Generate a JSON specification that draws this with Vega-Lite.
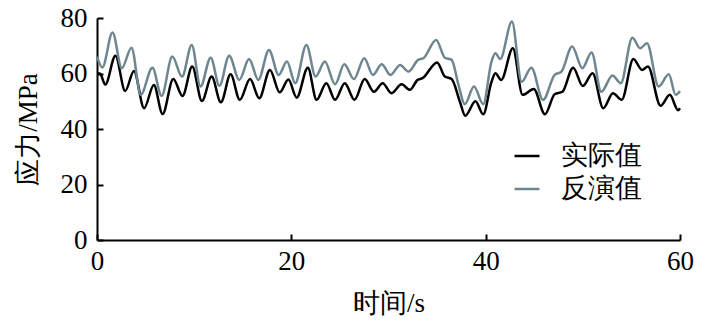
{
  "$schema": "https://vega.github.io/schema/vega-lite/v6.json",
  "width": 583,
  "height": 222,
  "autosize": "none",
  "padding": {"left": 97, "top": 18, "right": 29, "bottom": 91},
  "background": "white",
  "config": {
    "view": {"stroke": null},
    "font": "Liberation Serif",
    "axis": {
      "domainColor": "#000000",
      "domainWidth": 2,
      "tickColor": "#000000",
      "tickWidth": 2,
      "tickSize": -6,
      "grid": false,
      "labelFlush": false,
      "labelFont": "Liberation Serif",
      "labelFontSize": 27,
      "labelColor": "#000000",
      "titleFont": "Liberation Serif",
      "titleFontSize": 27,
      "titleFontWeight": "normal",
      "titleColor": "#000000"
    }
  },
  "data": {
    "values": [
      {"t": 0.0, "v": 60.0, "s": "实际值"},
      {"t": 0.3, "v": 60.0, "s": "实际值"},
      {"t": 0.85, "v": 56.0, "s": "实际值"},
      {"t": 1.9, "v": 66.4, "s": "实际值"},
      {"t": 2.9, "v": 53.7, "s": "实际值"},
      {"t": 3.8, "v": 60.9, "s": "实际值"},
      {"t": 4.85, "v": 47.5, "s": "实际值"},
      {"t": 5.85, "v": 55.9, "s": "实际值"},
      {"t": 6.75, "v": 45.4, "s": "实际值"},
      {"t": 7.85, "v": 58.0, "s": "实际值"},
      {"t": 8.8, "v": 51.9, "s": "实际值"},
      {"t": 9.8, "v": 62.5, "s": "实际值"},
      {"t": 10.8, "v": 50.1, "s": "实际值"},
      {"t": 11.8, "v": 58.9, "s": "实际值"},
      {"t": 12.75, "v": 49.6, "s": "实际值"},
      {"t": 13.75, "v": 59.7, "s": "实际值"},
      {"t": 14.7, "v": 50.5, "s": "实际值"},
      {"t": 15.75, "v": 58.0, "s": "实际值"},
      {"t": 16.7, "v": 51.1, "s": "实际值"},
      {"t": 17.8, "v": 61.3, "s": "实际值"},
      {"t": 18.8, "v": 53.2, "s": "实际值"},
      {"t": 19.7, "v": 57.8, "s": "实际值"},
      {"t": 20.55, "v": 51.3, "s": "实际值"},
      {"t": 21.7, "v": 62.1, "s": "实际值"},
      {"t": 22.6, "v": 50.5, "s": "实际值"},
      {"t": 23.6, "v": 56.5, "s": "实际值"},
      {"t": 24.5, "v": 50.5, "s": "实际值"},
      {"t": 25.5, "v": 56.5, "s": "实际值"},
      {"t": 26.5, "v": 50.5, "s": "实际值"},
      {"t": 27.55, "v": 58.0, "s": "实际值"},
      {"t": 28.5, "v": 53.4, "s": "实际值"},
      {"t": 29.4, "v": 56.5, "s": "实际值"},
      {"t": 30.3, "v": 52.9, "s": "实际值"},
      {"t": 31.35, "v": 56.1, "s": "实际值"},
      {"t": 32.2, "v": 54.1, "s": "实际值"},
      {"t": 33.0, "v": 57.7, "s": "实际值"},
      {"t": 33.5, "v": 58.3, "s": "实际值"},
      {"t": 35.0, "v": 64.0, "s": "实际值"},
      {"t": 35.8, "v": 58.9, "s": "实际值"},
      {"t": 36.5, "v": 58.0, "s": "实际值"},
      {"t": 37.35, "v": 49.8, "s": "实际值"},
      {"t": 37.9, "v": 44.8, "s": "实际值"},
      {"t": 38.95, "v": 50.0, "s": "实际值"},
      {"t": 39.75, "v": 45.3, "s": "实际值"},
      {"t": 40.6, "v": 57.0, "s": "实际值"},
      {"t": 41.0, "v": 60.1, "s": "实际值"},
      {"t": 41.6, "v": 57.7, "s": "实际值"},
      {"t": 42.8, "v": 69.1, "s": "实际值"},
      {"t": 43.8, "v": 52.3, "s": "实际值"},
      {"t": 44.95, "v": 54.4, "s": "实际值"},
      {"t": 46.1, "v": 45.3, "s": "实际值"},
      {"t": 47.1, "v": 52.5, "s": "实际值"},
      {"t": 47.9, "v": 53.4, "s": "实际值"},
      {"t": 49.0, "v": 62.1, "s": "实际值"},
      {"t": 50.0, "v": 55.5, "s": "实际值"},
      {"t": 51.0, "v": 60.1, "s": "实际值"},
      {"t": 52.1, "v": 47.5, "s": "实际值"},
      {"t": 53.1, "v": 52.9, "s": "实际值"},
      {"t": 54.0, "v": 50.5, "s": "实际值"},
      {"t": 55.2, "v": 65.2, "s": "实际值"},
      {"t": 56.1, "v": 61.3, "s": "实际值"},
      {"t": 56.7, "v": 62.5, "s": "实际值"},
      {"t": 58.0, "v": 48.4, "s": "实际值"},
      {"t": 58.95, "v": 52.3, "s": "实际值"},
      {"t": 59.8, "v": 46.8, "s": "实际值"},
      {"t": 60.0, "v": 47.5, "s": "实际值"},
      {"t": 0.0, "v": 66.1, "s": "反演值"},
      {"t": 0.55, "v": 62.2, "s": "反演值"},
      {"t": 1.6, "v": 74.8, "s": "反演值"},
      {"t": 2.55, "v": 61.9, "s": "反演值"},
      {"t": 3.55, "v": 69.3, "s": "反演值"},
      {"t": 4.5, "v": 52.3, "s": "反演值"},
      {"t": 5.7, "v": 62.1, "s": "反演值"},
      {"t": 6.65, "v": 52.0, "s": "反演值"},
      {"t": 7.75, "v": 66.1, "s": "反演值"},
      {"t": 8.75, "v": 58.9, "s": "反演值"},
      {"t": 9.75, "v": 70.3, "s": "反演值"},
      {"t": 10.65, "v": 55.3, "s": "反演值"},
      {"t": 11.7, "v": 65.7, "s": "反演值"},
      {"t": 12.6, "v": 55.6, "s": "反演值"},
      {"t": 13.6, "v": 66.4, "s": "反演值"},
      {"t": 14.65, "v": 57.7, "s": "反演值"},
      {"t": 15.65, "v": 65.2, "s": "反演值"},
      {"t": 16.6, "v": 57.7, "s": "反演值"},
      {"t": 17.7, "v": 68.5, "s": "反演值"},
      {"t": 18.7, "v": 59.5, "s": "反演值"},
      {"t": 19.55, "v": 64.3, "s": "反演值"},
      {"t": 20.4, "v": 56.5, "s": "反演值"},
      {"t": 21.55, "v": 70.3, "s": "反演值"},
      {"t": 22.5, "v": 58.9, "s": "反演值"},
      {"t": 23.45, "v": 64.3, "s": "反演值"},
      {"t": 24.5, "v": 56.1, "s": "反演值"},
      {"t": 25.45, "v": 63.3, "s": "反演值"},
      {"t": 26.45, "v": 58.0, "s": "反演值"},
      {"t": 27.5, "v": 65.5, "s": "反演值"},
      {"t": 28.4, "v": 59.5, "s": "反演值"},
      {"t": 29.3, "v": 63.3, "s": "反演值"},
      {"t": 30.2, "v": 59.5, "s": "反演值"},
      {"t": 31.2, "v": 63.1, "s": "反演值"},
      {"t": 32.05, "v": 60.7, "s": "反演值"},
      {"t": 33.05, "v": 64.9, "s": "反演值"},
      {"t": 33.6, "v": 65.5, "s": "反演值"},
      {"t": 34.9, "v": 72.1, "s": "反演值"},
      {"t": 35.8, "v": 65.7, "s": "反演值"},
      {"t": 36.5, "v": 64.9, "s": "反演值"},
      {"t": 37.2, "v": 55.9, "s": "反演值"},
      {"t": 37.85, "v": 48.9, "s": "反演值"},
      {"t": 38.8, "v": 55.3, "s": "反演值"},
      {"t": 39.75, "v": 48.9, "s": "反演值"},
      {"t": 40.6, "v": 64.3, "s": "反演值"},
      {"t": 41.0, "v": 67.3, "s": "反演值"},
      {"t": 41.5, "v": 65.2, "s": "反演值"},
      {"t": 42.7, "v": 78.7, "s": "反演值"},
      {"t": 43.7, "v": 57.0, "s": "反演值"},
      {"t": 44.7, "v": 62.1, "s": "反演值"},
      {"t": 45.9, "v": 50.5, "s": "反演值"},
      {"t": 47.1, "v": 59.5, "s": "反演值"},
      {"t": 47.8, "v": 60.7, "s": "反演值"},
      {"t": 48.9, "v": 69.7, "s": "反演值"},
      {"t": 49.95, "v": 61.9, "s": "反演值"},
      {"t": 50.9, "v": 67.6, "s": "反演值"},
      {"t": 51.9, "v": 53.4, "s": "反演值"},
      {"t": 53.05, "v": 59.3, "s": "反演值"},
      {"t": 53.9, "v": 56.5, "s": "反演值"},
      {"t": 55.1, "v": 72.9, "s": "反演值"},
      {"t": 55.9, "v": 69.1, "s": "反演值"},
      {"t": 56.6, "v": 70.9, "s": "反演值"},
      {"t": 57.8, "v": 55.3, "s": "反演值"},
      {"t": 58.85, "v": 59.7, "s": "反演值"},
      {"t": 59.55, "v": 52.3, "s": "反演值"},
      {"t": 60.0, "v": 53.7, "s": "反演值"}
    ]
  },
  "mark": {"type": "line", "interpolate": "monotone", "strokeWidth": 2.5},
  "encoding": {
    "x": {
      "field": "t",
      "type": "quantitative",
      "scale": {"domain": [0, 60], "nice": false},
      "axis": {"values": [0, 20, 40, 60], "title": "时间/s", "labelPadding": 14, "titlePadding": 16}
    },
    "y": {
      "field": "v",
      "type": "quantitative",
      "scale": {"domain": [0, 80], "nice": false},
      "axis": {"values": [0, 20, 40, 60, 80], "title": "应力/MPa", "labelPadding": 16, "titlePadding": 18}
    },
    "color": {
      "field": "s",
      "type": "nominal",
      "scale": {"domain": ["实际值", "反演值"], "range": ["#000000", "#6e8690"]},
      "legend": {
        "title": null,
        "orient": "none",
        "legendX": 416,
        "legendY": 124,
        "symbolType": "stroke",
        "symbolStrokeWidth": 2.5,
        "symbolSize": 625,
        "labelFontSize": 27,
        "labelFont": "Liberation Serif",
        "labelColor": "#000000",
        "labelOffset": 20,
        "rowPadding": 6
      }
    }
  }
}
